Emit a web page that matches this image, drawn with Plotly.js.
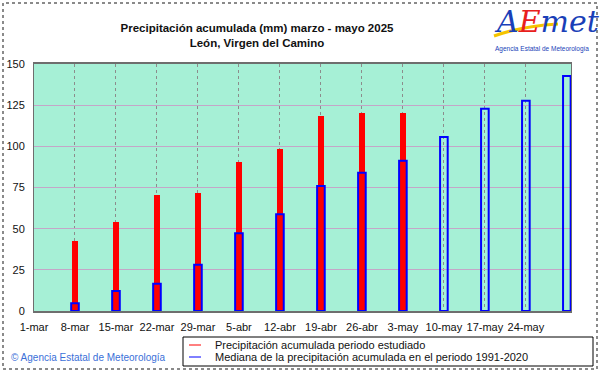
<!DOCTYPE html>
<html>
<head>
<meta charset="utf-8">
<script src="https://cdn.plot.ly/plotly-3.0.1.min.js"></script>
<style>
html,body{margin:0;padding:0;background:#fff;}
#chart{width:601px;height:374px;}
</style>
</head>
<body>
<div id="chart"></div>
<script>
// ---- data ----
const tickDates = ['2025-03-01','2025-03-08','2025-03-15','2025-03-22','2025-03-29','2025-04-05','2025-04-12','2025-04-19','2025-04-26','2025-05-03','2025-05-10','2025-05-17','2025-05-24'];
const tickLabels = ['1-mar','8-mar','15-mar','22-mar','29-mar','5-abr','12-abr','19-abr','26-abr','3-may','10-may','17-may','24-may'];
const obsDates = ['2025-03-08','2025-03-15','2025-03-22','2025-03-29','2025-04-05','2025-04-12','2025-04-19','2025-04-26','2025-05-03'];
const obsValues = [42.5, 54.0, 70.5, 71.8, 90.3, 98.4, 118.4, 120.4, 120.4];
const medianDates = ['2025-03-08','2025-03-15','2025-03-22','2025-03-29','2025-04-05','2025-04-12','2025-04-19','2025-04-26','2025-05-03','2025-05-10','2025-05-17','2025-05-24','2025-05-31'];
const medianValues = [4.7, 12.1, 16.6, 28.1, 47.2, 58.7, 75.9, 84.0, 91.3, 105.6, 122.8, 127.7, 142.7];
const yTicks = [0, 25, 50, 75, 100, 125, 150];
const seriesNames = ['Precipitación acumulada periodo estudiado', 'Mediana de la precipitación acumulada en el periodo 1991-2020'];
const titleLines = ['Precipitación acumulada (mm) marzo - mayo 2025', 'León, Virgen del Camino'];

// ---- layout geometry (pixels) ----
const W = 601, H = 374;
const L = 34, R = 30, T = 64, B = 63;
const pw = W - L - R, ph = H - T - B;
const px = x => (x - L) / pw;
const py = y => (H - B - y) / ph;
const DAY = 86400000;

const font = 'Arial, "Liberation Sans", sans-serif';
const narrow = '"Liberation Sans Narrow", "Arial Narrow", Arial, sans-serif';

const traces = [
  {
    type: 'bar', x: obsDates, y: obsValues, name: seriesNames[0],
    width: obsDates.map(() => 1.0 * DAY),
    marker: {color: '#ff0000', line: {width: 0}},
    showlegend: false, hoverinfo: 'x+y'
  },
  {
    type: 'bar', x: medianDates, y: medianValues, name: seriesNames[1],
    width: medianDates.map(() => 1.3 * DAY),
    marker: {color: 'rgba(0,0,0,0)', line: {color: '#0000ff', width: 2}},
    showlegend: false, hoverinfo: 'x+y'
  }
];

const shapes = [
  // outer dotted frame
  {type: 'rect', xref: 'paper', yref: 'paper', x0: px(3), x1: px(597), y0: py(369), y1: py(3),
   line: {color: '#8a8a8a', width: 2, dash: 'dot'}, fillcolor: 'rgba(0,0,0,0)', layer: 'above'},
  // legend box
  {type: 'rect', xref: 'paper', yref: 'paper', x0: px(183), x1: px(593), y0: py(366), y1: py(337),
   line: {color: '#000', width: 1}, fillcolor: '#fff'},
  {type: 'line', xref: 'paper', yref: 'paper', x0: px(189), x1: px(201), y0: py(345), y1: py(345),
   line: {color: '#ff0000', width: 1}},
  {type: 'line', xref: 'paper', yref: 'paper', x0: px(189), x1: px(201), y0: py(357), y1: py(357),
   line: {color: '#0000ff', width: 1}},
  // logo swoosh
  {type: 'path', xref: 'paper', yref: 'paper',
   path: `M ${px(494)} ${py(36)} Q ${px(522)} ${py(26)} ${px(558)} ${py(24)}`,
   line: {color: '#f5c400', width: 3}, fillcolor: 'rgba(0,0,0,0)'}
];

const annotations = [
  {xref: 'paper', yref: 'paper', x: px(213), y: py(345), xanchor: 'left', yanchor: 'middle', showarrow: false,
   text: seriesNames[0], font: {family: font, size: 11, color: '#111'}},
  {xref: 'paper', yref: 'paper', x: px(213), y: py(357), xanchor: 'left', yanchor: 'middle', showarrow: false,
   text: seriesNames[1], font: {family: font, size: 11, color: '#111'}},
  {xref: 'paper', yref: 'paper', x: px(9), y: py(357), xanchor: 'left', yanchor: 'middle', showarrow: false,
   text: '© Agencia Estatal de Meteorología', font: {family: font, size: 10, color: '#3a6fd8'}},
  {xref: 'paper', yref: 'paper', x: px(547), y: py(21), xanchor: 'center', yanchor: 'middle', showarrow: false,
   text: '<i><span style="color:#1a3fb8">A</span><span style="color:#e8201c">E</span><span style="color:#1a3fb8">met</span></i>',
   font: {family: '"DejaVu Serif", serif', size: 30, color: '#1a3fb8'}},
  {xref: 'paper', yref: 'paper', x: px(542), y: py(49), xanchor: 'center', yanchor: 'middle', showarrow: false,
   text: 'Agencia Estatal de Meteorología', font: {family: font, size: 6.5, color: '#1a3fb8'}}
];

const layout = {
  width: W, height: H,
  margin: {l: L, r: R, t: T, b: B, pad: 0},
  paper_bgcolor: '#ffffff',
  plot_bgcolor: '#a6f0d6',
  barmode: 'overlay',
  bargap: 0,
  showlegend: false,
  title: {
    text: '<b>' + titleLines.join('<br>') + '</b>',
    x: 257 / W, xref: 'container', xanchor: 'center',
    y: 1 - 32 / H, yref: 'container', yanchor: 'top',
    font: {family: narrow, size: 11.5, color: '#111'}
  },
  xaxis: {
    type: 'date',
    range: ['2025-03-01', new Date(Date.UTC(2025, 4, 31, 17)).toISOString()],
    tickvals: tickDates, ticktext: tickLabels,
    tickfont: {family: font, size: 11, color: '#111'},
    ticks: 'outside', ticklen: 5, tickcolor: 'rgba(0,0,0,0)',
    showgrid: true, gridcolor: '#8c8c8c', griddash: 'dot', gridwidth: 1,
    showline: true, linecolor: '#6e6e6e', linewidth: 2, mirror: true,
    zeroline: false, fixedrange: true
  },
  yaxis: {
    range: [0, 150], tickvals: yTicks,
    tickfont: {family: font, size: 11, color: '#111'},
    ticks: 'outside', ticklen: 6, tickcolor: 'rgba(0,0,0,0)',
    showgrid: true, gridcolor: '#c4a6c8', gridwidth: 1,
    showline: true, linecolor: '#6e6e6e', linewidth: 1, mirror: true,
    zeroline: false, fixedrange: true
  },
  shapes: shapes,
  annotations: annotations
};

Plotly.newPlot('chart', traces, layout, {displayModeBar: false, staticPlot: true});
</script>
</body>
</html>
